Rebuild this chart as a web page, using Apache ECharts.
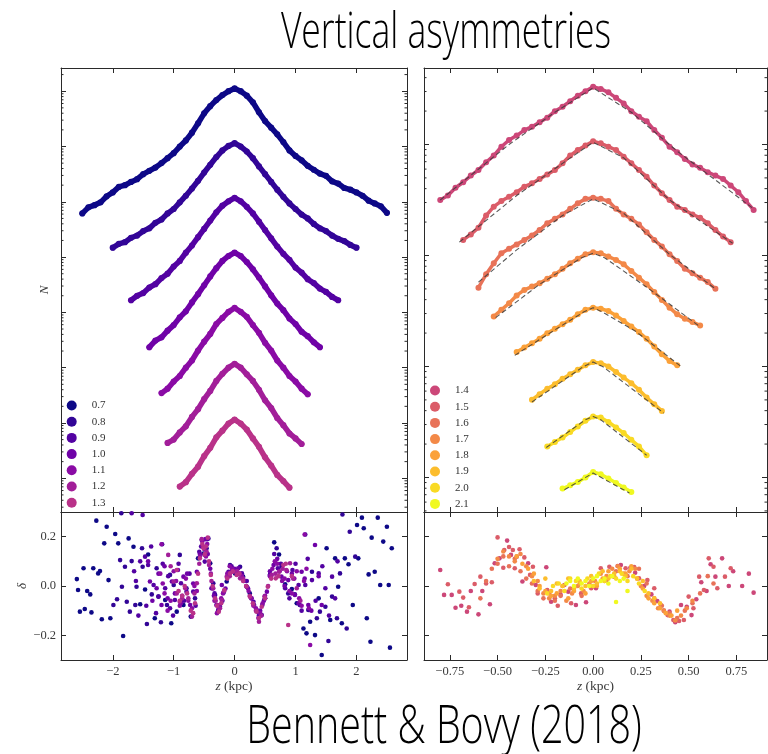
<!DOCTYPE html>
<html><head><meta charset="utf-8">
<script src="https://cdn.jsdelivr.net/npm/echarts/dist/echarts.min.js"></script>
<style>html,body{margin:0;padding:0;background:#fff}#c{width:768px;height:754px}</style>
</head><body><div id="c"></div>
<script>
const _ = null;
// ---------- bins ----------
const zLeft = [-2.5,-2.4,-2.3,-2.2,-2.1,-2.0,-1.9,-1.8,-1.7,-1.6,-1.5,-1.4,-1.3,-1.2,-1.1,-1.0,-0.9,-0.8,-0.7,-0.6,-0.5,-0.4,-0.3,-0.2,-0.1,0,0.1,0.2,0.3,0.4,0.5,0.6,0.7,0.8,0.9,1.0,1.1,1.2,1.3,1.4,1.5,1.6,1.7,1.8,1.9,2.0,2.1,2.2,2.3,2.4,2.5];
const zRight = [-0.80,-0.76,-0.72,-0.68,-0.64,-0.60,-0.56,-0.52,-0.48,-0.44,-0.40,-0.36,-0.32,-0.28,-0.24,-0.20,-0.16,-0.12,-0.08,-0.04,0.00,0.04,0.08,0.12,0.16,0.20,0.24,0.28,0.32,0.36,0.40,0.44,0.48,0.52,0.56,0.60,0.64,0.68,0.72,0.76,0.80,0.84];

const leftNames = ['0.7','0.8','0.9','1.0','1.1','1.2','1.3'];
const rightNames = ['1.4','1.5','1.6','1.7','1.8','1.9','2.0','2.1'];
const leftColors = ['#0d0887','#320597','#5302a2','#6f02a7','#8a0ba5','#a21e99','#b93289'];
const rightColors = ['#cc4778','#db5c68','#e87258','#f38948','#fba139','#fcbd2d','#f9da24','#f0f921'];

// ---------- log10 N (offset curves), left panel ----------
const logN07 = [5.79,5.90,5.94,5.99,6.10,6.17,6.27,6.30,6.36,6.41,6.50,6.56,6.62,6.70,6.79,6.88,7.00,7.11,7.25,7.42,7.60,7.73,7.84,7.93,8.00,8.05,8.00,7.92,7.80,7.62,7.46,7.34,7.22,7.08,6.93,6.83,6.75,6.65,6.58,6.51,6.47,6.37,6.33,6.25,6.22,6.17,6.11,6.02,5.97,5.92,5.80];
const logN08 = [_,_,_,_,_,5.17,5.24,5.27,5.35,5.39,5.47,5.52,5.62,5.68,5.79,5.87,5.99,6.11,6.24,6.38,6.53,6.67,6.81,6.93,7.01,7.06,7.00,6.91,6.79,6.64,6.50,6.36,6.22,6.09,5.97,5.87,5.77,5.70,5.60,5.52,5.47,5.39,5.33,5.29,5.22,5.17,_,_,_,_,_];
const logN09 = [_,_,_,_,_,_,_,_,4.22,4.30,4.35,4.45,4.51,4.62,4.70,4.83,4.93,5.08,5.21,5.36,5.51,5.66,5.81,5.93,6.01,6.07,6.01,5.91,5.79,5.64,5.49,5.34,5.19,5.06,4.95,4.81,4.72,4.60,4.53,4.43,4.37,4.28,4.22,_,_,_,_,_,_,_,_];
const logN10 = [_,_,_,_,_,_,_,_,_,_,_,3.37,3.49,3.55,3.67,3.77,3.91,4.02,4.18,4.33,4.49,4.65,4.80,4.93,5.02,5.08,5.02,4.91,4.78,4.63,4.47,4.31,4.16,4.04,3.89,3.79,3.65,3.57,3.46,3.37,_,_,_,_,_,_,_,_,_,_,_];
const logN11 = [_,_,_,_,_,_,_,_,_,_,_,_,_,2.54,2.62,2.75,2.85,3.00,3.13,3.31,3.47,3.61,3.79,3.90,4.01,4.08,4.01,3.92,3.77,3.63,3.45,3.31,3.13,3.00,2.85,2.75,2.62,2.52,_,_,_,_,_,_,_,_,_,_,_,_,_];
const logN12 = [_,_,_,_,_,_,_,_,_,_,_,_,_,_,1.64,1.70,1.83,1.94,2.11,2.25,2.43,2.58,2.76,2.89,3.00,3.07,3.00,2.88,2.76,2.60,2.41,2.27,2.09,1.96,1.81,1.72,1.62,_,_,_,_,_,_,_,_,_,_,_,_,_,_];
const logN13 = [_,_,_,_,_,_,_,_,_,_,_,_,_,_,_,_,0.85,0.93,1.08,1.21,1.40,1.55,1.74,1.86,1.99,2.06,1.99,1.88,1.72,1.57,1.38,1.23,1.06,0.95,0.83,_,_,_,_,_,_,_,_,_,_,_,_,_,_,_,_];

// ---------- log10 N (offset curves), right panel ----------
const logN14 = [3.50,3.54,3.61,3.66,3.72,3.77,3.84,3.90,3.98,4.04,4.08,4.13,4.16,4.20,4.24,4.30,4.34,4.39,4.44,4.48,4.52,4.50,4.47,4.42,4.37,4.30,4.25,4.21,4.13,4.06,3.98,3.93,3.87,3.82,3.79,3.75,3.72,3.69,3.63,3.57,3.49,3.41];
const logN15 = [_,_,_,3.14,3.19,3.25,3.36,3.44,3.49,3.53,3.57,3.62,3.65,3.69,3.73,3.77,3.83,3.90,3.95,3.99,4.03,4.01,3.98,3.95,3.89,3.83,3.77,3.71,3.63,3.56,3.50,3.44,3.41,3.37,3.34,3.29,3.23,3.17,3.12,_,_,_];
const logN16 = [_,_,_,_,_,2.71,2.83,2.93,3.02,3.06,3.10,3.14,3.18,3.23,3.29,3.33,3.37,3.42,3.47,3.51,3.52,3.51,3.49,3.42,3.37,3.33,3.28,3.21,3.14,3.08,3.01,2.95,2.88,2.84,2.80,2.76,2.70,_,_,_,_,_];
const logN17 = [_,_,_,_,_,_,_,2.45,2.51,2.57,2.64,2.69,2.72,2.75,2.79,2.83,2.88,2.93,2.97,3.01,3.03,3.02,2.99,2.96,2.92,2.86,2.80,2.74,2.67,2.60,2.53,2.47,2.43,2.40,2.37,_,_,_,_,_,_,_];
const logN18 = [_,_,_,_,_,_,_,_,_,_,2.13,2.17,2.21,2.25,2.30,2.34,2.38,2.42,2.47,2.51,2.53,2.52,2.50,2.46,2.41,2.36,2.31,2.25,2.18,2.11,2.05,2.01,_,_,_,_,_,_,_,_,_,_];
const logN19 = [_,_,_,_,_,_,_,_,_,_,_,_,1.70,1.75,1.80,1.84,1.89,1.93,1.97,2.01,2.04,2.03,2.00,1.95,1.90,1.85,1.79,1.72,1.66,1.60,_,_,_,_,_,_,_,_,_,_,_,_];
const logN20 = [_,_,_,_,_,_,_,_,_,_,_,_,_,_,1.28,1.32,1.36,1.41,1.46,1.51,1.55,1.54,1.50,1.45,1.40,1.34,1.28,1.20,_,_,_,_,_,_,_,_,_,_,_,_,_,_];
const logN21 = [_,_,_,_,_,_,_,_,_,_,_,_,_,_,_,_,0.90,0.93,0.96,1.00,1.05,1.03,0.99,0.95,0.91,0.87,_,_,_,_,_,_,_,_,_,_,_,_,_,_,_,_];

// ---------- model fits (dashed), right panel: [z, log10 N] ----------
const fit14 = [[-0.80,3.50],[-0.44,4.00],[-0.20,4.29],[0,4.51],[0.20,4.29],[0.44,3.94],[0.84,3.42]];
const fit15 = [[-0.70,3.12],[-0.40,3.54],[-0.16,3.83],[0,4.02],[0.16,3.88],[0.40,3.50],[0.73,3.11]];
const fit16 = [[-0.60,2.76],[-0.40,3.05],[-0.16,3.36],[0,3.51],[0.16,3.38],[0.40,3.01],[0.64,2.70]];
const fit17 = [[-0.51,2.44],[-0.28,2.74],[-0.06,2.98],[0,3.02],[0.06,2.98],[0.30,2.69],[0.55,2.37]];
const fit18 = [[-0.41,2.10],[-0.20,2.33],[-0.05,2.49],[0,2.53],[0.05,2.49],[0.22,2.32],[0.46,2.00]];
const fit19 = [[-0.32,1.68],[-0.05,2.00],[0,2.04],[0.05,2.00],[0.37,1.58]];
const fit20 = [[-0.245,1.27],[-0.04,1.52],[0,1.55],[0.04,1.52],[0.28,1.20]];
const fit21 = [[-0.15,0.89],[0,1.04],[0.19,0.86]];

// ---------- residuals delta: [z, delta] ----------
const res07 = [[-2.59,0.028],[-2.57,-0.016],[-2.54,-0.104],[-2.48,0.072],[-2.46,-0.093],[-2.42,-0.02],[-2.37,-0.034],[-2.35,-0.107],[-2.32,0.072],[-2.27,0.265],[-2.24,0.051],[-2.21,0.061],[-2.18,-0.135],[-2.14,0.173],[-2.10,0.24],[-2.07,0.024],[-2.04,-0.131],[-1.96,0.211],[-1.91,0.173],[-1.83,-0.203],[-1.74,0.193],[-1.66,0.159],[-1.55,-0.074],[-1.47,-0.014],[-1.42,0.128],[-1.31,-0.131],[-1.25,-0.043],[-1.14,-0.057],[-1.04,-0.151],[-0.95,-0.104],[-0.84,-0.077],[-0.72,-0.124],[-0.60,0.112],[-0.51,0.132],[-0.40,0.092],[-0.27,-0.10],[-0.13,0.018],[0.007,0.051],[0.14,0.038],[0.25,-0.03],[0.39,-0.107],[0.50,-0.05],[0.65,0.177],[0.73,0.128],[0.83,0.007],[0.94,-0.012],[1.02,-0.07],[1.13,-0.172],[1.18,-0.192],[1.24,-0.145],[1.32,-0.199],[1.38,-0.05],[1.43,-0.28],[1.51,0.153],[1.57,-0.138],[1.65,0.112],[1.70,-0.003],[1.76,-0.151],[1.81,0.112],[1.87,0.088],[1.94,-0.077],[2.01,0.247],[2.03,0.112],[2.09,0.277],[2.12,0.234],[2.17,-0.131],[2.20,0.047],[2.23,-0.226],[2.25,0.196],[2.30,0.058],[2.35,0.277],[2.39,0.004],[2.44,0.18],[2.50,0.24],[2.53,0.004],[2.55,-0.25],[2.58,0.153]];
const res08 = [[-1.99,-0.077],[-1.93,-0.054],[-1.88,0.105],[-1.86,0.295],[-1.85,-0.003],[-1.80,0.078],[-1.77,-0.064],[-1.72,-0.104],[-1.69,0.101],[-1.63,-0.077],[-1.61,-0.003],[-1.52,0.153],[-1.51,0.078],[-1.44,-0.154],[-1.36,-0.034],[-1.28,0.072],[-1.21,-0.147],[-1.19,0.169],[-1.11,-0.077],[-1.06,0.045],[-1.00,0.004],[-0.90,0.126],[-0.79,-0.009],[-0.65,-0.05],[-0.54,0.186],[-0.46,0.153],[-0.43,0.193],[-0.35,0.011],[-0.32,-0.036],[-0.24,-0.084],[-0.18,-0.026],[-0.075,0.085],[0.09,0.078],[0.20,-0.003],[0.32,-0.077],[0.445,-0.118],[0.58,0.045],[0.69,0.153],[0.77,0.078],[0.88,-0.03],[0.99,-0.034],[1.07,-0.077],[1.16,0.209],[1.21,-0.097],[1.27,0.058],[1.35,-0.131],[1.40,-0.104],[1.49,-0.084],[1.54,-0.223],[1.60,-0.043],[1.68,-0.131],[1.73,0.051],[1.77,0.29],[1.84,-0.172],[1.89,0.22],[1.98,0.119]];
const res09 = [[-1.69,0.295],[-1.65,0.06],[-1.58,-0.12],[-1.51,0.288],[-1.47,0.119],[-1.42,0.085],[-1.33,0.004],[-1.25,-0.043],[-1.14,-0.009],[-1.06,-0.09],[-0.98,-0.057],[-0.88,0.011],[-0.79,-0.023],[-0.68,-0.023],[-0.58,0.139],[-0.49,0.099],[-0.38,-0.009],[-0.27,-0.10],[-0.10,0.058],[0.12,0.051],[0.31,-0.064],[0.455,-0.077],[0.58,0.045],[0.71,0.072],[0.83,-0.009],[0.95,0.065],[1.05,0.004],[1.16,0.004],[1.27,0.024],[1.38,0.051],[1.49,-0.009],[1.60,0.038],[1.65,-0.05],
  [-1.62,0.02],[-1.55,0.10],[-1.45,-0.08],[-1.37,0.16],[-1.29,-0.11],[-1.18,0.09],[-1.09,0.04],[-1.01,-0.12],[-0.92,0.09],[-0.83,-0.06],[-0.74,0.05],[-0.64,-0.08],[-0.55,0.16],[-0.45,0.19],[-0.33,-0.03],[-0.20,-0.06],[-0.05,0.08],[0.05,0.05],[0.20,0.02],[0.40,-0.12],[0.50,-0.05],[0.65,0.13],[0.76,0.09],[0.90,-0.05],[1.00,0.09],[1.10,-0.10],[1.20,0.11],[1.33,-0.06],[1.44,0.08],[1.55,-0.12],[1.69,0.10]];
const res10 = [[-1.42,0.10],[-1.39,0.018],[-1.28,-0.009],[-1.20,-0.077],[-1.10,-0.05],[-1.03,0.018],[-0.93,0.065],[-0.84,0.038],[-0.73,-0.077],[-0.62,0.058],[-0.52,0.16],[-0.44,0.13],[-0.30,-0.077],[-0.21,0.004],[-0.05,0.06],[0.06,0.072],[0.22,-0.009],[0.36,-0.097],[0.53,-0.023],[0.64,0.085],[0.77,0.038],[0.88,0.024],[0.99,-0.036],[1.10,0.058],[1.21,-0.077],[1.32,0.166],[1.43,-0.077],
  [-1.35,-0.06],[-1.25,0.05],[-1.15,0.08],[-0.98,-0.03],[-0.88,-0.07],[-0.78,0.05],[-0.68,0.01],[-0.57,0.13],[-0.48,0.19],[-0.40,0.07],[-0.34,-0.04],[-0.25,-0.08],[-0.15,-0.01],[0.0,0.07],[0.15,0.02],[0.28,-0.05],[0.42,-0.10],[0.48,-0.06],[0.58,0.06],[0.70,0.11],[0.82,0.0],[0.94,0.05],[1.05,-0.07],[1.15,0.03],[1.26,-0.10],[1.38,0.04]];
const res11 = [[-1.22,0.05],[-1.20,0.169],[-1.15,-0.03],[-1.05,-0.06],[-0.96,0.02],[-0.86,-0.04],[-0.76,-0.06],[-0.66,0.00],[-0.57,0.12],[-0.50,0.15],[-0.45,0.17],[-0.39,0.05],[-0.33,-0.06],[-0.26,-0.09],[-0.19,-0.03],[-0.12,0.05],[-0.04,0.07],[0.04,0.06],[0.12,0.04],[0.19,0.00],[0.27,-0.05],[0.35,-0.09],[0.42,-0.11],[0.50,-0.04],[0.58,0.04],[0.66,0.10],[0.74,0.06],[0.82,0.03],[0.90,-0.02],[0.98,0.03],[1.06,-0.05],[1.14,0.02],[1.15,0.209],[1.22,-0.09],[1.24,-0.239],
  [-1.18,0.01],[-1.10,-0.10],[-1.00,0.06],[-0.90,-0.08],[-0.80,0.03],[-0.70,-0.09],[-0.62,-0.02],[-0.53,0.18],[-0.47,0.12],[-0.36,-0.01],[-0.29,-0.11],[-0.22,-0.05],[-0.08,0.08],[0.08,0.05],[0.23,-0.02],[0.31,-0.08],[0.39,-0.13],[0.46,-0.07],[0.62,0.07],[0.70,0.09],[0.78,0.02],[0.86,0.06],[0.94,-0.03],[1.02,0.06],[1.10,-0.08],[1.18,0.07]];
const res12 = [[-1.09,0.126],[-1.00,0.018],[-0.90,-0.064],[-0.81,-0.009],[-0.76,-0.05],[-0.70,-0.124],[-0.62,0.011],[-0.54,0.19],[-0.49,0.126],[-0.42,0.085],[-0.35,-0.009],[-0.28,-0.077],[-0.21,-0.057],[-0.13,0.038],[-0.02,0.058],[0.09,0.031],[0.20,-0.003],[0.31,-0.077],[0.40,-0.145],[0.49,-0.043],[0.61,0.045],[0.73,0.058],[0.85,0.065],[0.91,0.092],[1.02,-0.009],[1.08,-0.06],
  [-1.05,0.08],[-0.95,-0.03],[-0.86,-0.05],[-0.66,-0.03],[-0.58,0.09],[-0.52,0.16],[-0.46,0.14],[-0.38,0.02],[-0.31,-0.06],[-0.24,-0.09],[-0.17,-0.02],[-0.08,0.04],[0.04,0.06],[0.14,0.03],[0.25,-0.04],[0.35,-0.10],[0.44,-0.12],[0.55,0.0],[0.67,0.05],[0.79,0.07],[0.96,0.03]];
const res13 = [[-0.95,0.065],[-0.92,-0.02],[-0.86,-0.04],[-0.78,-0.03],[-0.72,-0.10],[-0.65,-0.07],[-0.57,0.112],[-0.51,0.153],[-0.47,0.16],[-0.44,0.196],[-0.39,0.045],[-0.32,-0.05],[-0.26,-0.104],[-0.17,-0.016],[-0.075,0.051],[0.034,0.045],[0.14,0.02],[0.25,-0.043],[0.36,-0.104],[0.445,-0.084],[0.545,-0.003],[0.675,0.031],[0.80,0.085],[0.88,-0.158],[0.94,0.04],
  [-0.90,-0.06],[-0.82,0.0],[-0.68,-0.11],[-0.60,0.05],[-0.53,0.17],[-0.49,0.13],[-0.42,0.10],[-0.36,0.0],[-0.29,-0.08],[-0.22,-0.07],[-0.12,0.03],[-0.03,0.06],[0.08,0.05],[0.19,0.0],[0.30,-0.07],[0.40,-0.13],[0.50,-0.05],[0.60,0.03],[0.72,0.04],[0.84,0.09]];
const res14 = [[-0.80,0.065],[-0.78,-0.036],[-0.74,-0.036],[-0.72,-0.088],[-0.69,-0.08],[-0.66,-0.104],[-0.64,-0.02],[-0.60,-0.115],[-0.58,-0.02],[-0.54,-0.074],[-0.515,0.092],[-0.49,0.112],[-0.45,0.184],[-0.43,0.126],[-0.40,0.119],[-0.37,0.018],[-0.34,0.092],[-0.30,0.004],[-0.245,0.076],[-0.22,-0.064],[-0.17,-0.036],[-0.13,-0.023],[-0.09,-0.077],[-0.037,-0.066],[0.015,-0.009],[0.07,0.024],[0.11,0.038],[0.145,0.085],[0.195,0.074],[0.22,0.054],[0.267,0.0],[0.305,-0.034],[0.336,-0.061],[0.37,-0.10],[0.40,-0.104],[0.43,-0.147],[0.46,-0.077],[0.49,-0.084],[0.515,-0.118],[0.54,-0.054],[0.566,0.015],[0.594,-0.02],[0.615,0.088],[0.64,0.038],[0.675,0.112],[0.71,0.0],[0.733,0.06],[0.78,0.0],[0.815,0.05],[0.84,-0.027]];
const res15 = [[-0.76,0.007],[-0.70,-0.023],[-0.68,-0.047],[-0.65,-0.086],[-0.62,0.008],[-0.59,0.038],[-0.56,0.01],[-0.53,0.015],[-0.50,0.197],[-0.47,0.074],[-0.465,0.146],[-0.44,0.158],[-0.42,0.146],[-0.41,0.072],[-0.385,0.149],[-0.36,0.116],[-0.33,0.045],[-0.315,0.078],[-0.29,-0.03],[-0.24,-0.016],[-0.20,-0.05],[-0.185,-0.08],[-0.15,0.004],[-0.115,-0.07],[-0.063,-0.03],[-0.01,-0.009],[0.04,0.072],[0.085,0.078],[0.128,0.081],[0.17,0.072],[0.215,0.077],[0.24,0.031],[0.284,0.024],[0.32,-0.009],[0.354,-0.077],[0.39,-0.118],[0.42,-0.138],[0.45,-0.142],[0.475,-0.138],[0.50,-0.043],[0.525,-0.09],[0.555,0.038],[0.58,-0.016],[0.605,0.112],[0.63,0.078],[0.65,-0.009],[0.69,0.038],[0.72,0.072]];
const res16 = [[-0.59,-0.05],[-0.56,0.02],[-0.53,0.07],[-0.50,0.09],[-0.47,0.12],[-0.44,0.08],[-0.41,0.11],[-0.38,0.06],[-0.35,0.03],[-0.32,0.01],[-0.29,-0.02],[-0.26,-0.05],[-0.23,-0.03],[-0.20,-0.06],[-0.17,-0.04],[-0.12,-0.01],[-0.06,-0.04],[0.0,0.0],[0.06,0.02],[0.12,0.06],[0.18,0.04],[0.24,0.07],[0.28,0.01],[0.32,-0.05],[0.36,-0.08],[0.40,-0.11],[0.44,-0.13],[0.48,-0.10],[0.52,-0.07],[0.56,-0.03],[0.60,0.04],[0.63,0.01]];
const res17 = [[-0.50,0.11],[-0.47,0.14],[-0.44,0.12],[-0.41,0.10],[-0.38,0.13],[-0.35,0.08],[-0.32,0.04],[-0.29,0.02],[-0.26,-0.03],[-0.23,-0.05],[-0.20,-0.04],[-0.17,-0.02],[-0.14,-0.06],[-0.11,-0.03],[-0.08,0.0],[-0.05,-0.02],[-0.02,0.01],[0.01,0.02],[0.04,0.05],[0.07,0.04],[0.10,0.07],[0.13,0.08],[0.16,0.05],[0.19,0.06],[0.22,0.07],[0.25,0.0],[0.28,-0.04],[0.31,-0.06],[0.34,-0.09],[0.37,-0.10],[0.40,-0.12],[0.43,-0.14],[0.46,-0.12],[0.49,-0.09],[0.52,-0.06]];
const res18 = [[-0.40,0.12],[-0.37,0.09],[-0.34,0.07],[-0.31,0.05],[-0.28,0.0],[-0.25,-0.02],[-0.22,-0.04],[-0.19,-0.03],[-0.16,0.0],[-0.13,-0.05],[-0.10,-0.02],[-0.07,0.01],[-0.04,-0.03],[-0.01,0.02],[0.02,0.0],[0.05,0.03],[0.08,0.06],[0.11,0.04],[0.14,0.07],[0.17,0.05],[0.20,0.08],[0.23,0.03],[0.26,-0.01],[0.29,-0.05],[0.32,-0.07],[0.35,-0.09],[0.38,-0.11],[0.41,-0.12],[0.44,-0.10]];
const res19 = [[-0.31,0.02],[-0.28,-0.01],[-0.25,0.03],[-0.22,-0.02],[-0.19,0.01],[-0.16,0.0],[-0.13,0.03],[-0.10,-0.01],[-0.07,0.02],[-0.04,0.0],[-0.01,0.04],[0.02,0.01],[0.05,0.06],[0.08,0.03],[0.11,0.05],[0.14,0.06],[0.17,0.04],[0.20,0.07],[0.23,0.03],[0.26,0.02],[0.29,-0.03],[0.32,-0.05],[0.35,-0.07]];
const res20 = [[-0.24,-0.03],[-0.21,0.0],[-0.18,0.01],[-0.15,-0.02],[-0.12,0.03],[-0.09,0.02],[-0.06,-0.01],[-0.03,0.03],[0.0,0.0],[0.03,0.05],[0.06,0.02],[0.09,0.04],[0.12,0.03],[0.15,0.05],[0.18,0.02],[0.21,0.04],[0.24,0.01],[0.27,-0.02]];
const res21 = [[-0.14,0.01],[-0.12,0.02],[-0.10,0.0],[-0.08,0.03],[-0.06,0.01],[-0.04,0.02],[-0.02,0.0],[0.0,0.03],[0.02,0.04],[0.04,0.02],[0.06,0.03],[0.08,0.01],[0.10,0.04],[0.12,-0.065],[0.14,0.02],[0.16,0.03],[0.18,-0.02]];

const leftCurves = [logN07,logN08,logN09,logN10,logN11,logN12,logN13];
const rightCurves = [logN14,logN15,logN16,logN17,logN18,logN19,logN20,logN21];
const rightFits = [fit14,fit15,fit16,fit17,fit18,fit19,fit20,fit21];
const leftRes = [res07,res08,res09,res10,res11,res12,res13];
const rightRes = [res14,res15,res16,res17,res18,res19,res20,res21];

// ---------- axis ranges ----------
const xL = [-2.85, 2.83], xR = [-0.885, 0.91];
const yTopL = [0.39, 8.42], yTopR = [0.689, 4.689], yRes = [-0.3, 0.3];
const minorMultiples = [2,3,4,5,6,7,8,9];

const AX = '#2a2a2a';
const SERIF = '"Liberation Serif","DejaVu Serif",serif';
const minus = s => String(s).replace('-', '\u2212');

function xAx(grid, r, step, pos, labels, fmt, name) {
  return {
    type:'value', gridIndex:grid, min:r[0], max:r[1], minInterval:step, maxInterval:step, position:pos,
    axisLine:{onZero:false, lineStyle:{color:AX, width:1}},
    axisTick:{inside:true, length:5, lineStyle:{color:AX}},
    splitLine:{show:false},
    axisLabel:{show:labels, showMinLabel:false, showMaxLabel:false, margin:5, fontFamily:SERIF, fontSize:12.5, color:'#3a3a3a', formatter:fmt},
    name: name || '', nameLocation:'middle', nameGap:19,
    nameTextStyle:{fontFamily:SERIF, fontSize:13.5, color:'#3a3a3a', rich:{i:{fontStyle:'italic', fontFamily:SERIF, fontSize:13.5, color:'#3a3a3a'}}}
  };
}
function yAx(grid, r, step, pos, labels, name, gap) {
  return {
    type:'value', gridIndex:grid, min:r[0], max:r[1], minInterval:step, maxInterval:step, position:pos,
    axisLine:{onZero:false, lineStyle:{color:AX, width:1}},
    axisTick:{inside:true, length:5, lineStyle:{color:AX}},
    splitLine:{show:false},
    axisLabel:{show:labels, showMinLabel:false, showMaxLabel:false, margin:5, fontFamily:SERIF, fontSize:12.5, color:'#3a3a3a',
      formatter: v => minus(v.toFixed(1))},
    name: name || '', nameLocation:'middle', nameGap:gap || 10, nameRotate:90,
    nameTextStyle:{fontFamily:SERIF, fontSize:13, fontStyle:'italic', color:'#3a3a3a'}
  };
}

const grids = [
  {left:61, top:68, width:346, height:444},
  {left:424, top:68, width:343, height:444},
  {left:61, top:512, width:346, height:148},
  {left:424, top:512, width:343, height:148}
].map(g => Object.assign({outerBoundsMode:'none', containLabel:false}, g));

const xAxes = [
  xAx(0, xL, 1, 'bottom', false), xAx(0, xL, 1, 'top', false),
  xAx(1, xR, 0.25, 'bottom', false), xAx(1, xR, 0.25, 'top', false),
  xAx(2, xL, 1, 'bottom', true, v => minus(v), '{i|z} (kpc)'), xAx(2, xL, 1, 'top', false),
  xAx(3, xR, 0.25, 'bottom', true, v => minus(v.toFixed(2)), '{i|z} (kpc)'), xAx(3, xR, 0.25, 'top', false)
];
const yAxes = [
  yAx(0, yTopL, 1, 'left', false, 'N', 10), yAx(0, yTopL, 1, 'right', false),
  yAx(1, yTopR, 1, 'left', false), yAx(1, yTopR, 1, 'right', false),
  yAx(2, yRes, 0.2, 'left', true, '\u03b4', 32), yAx(2, yRes, 0.2, 'right', false),
  yAx(3, yRes, 0.2, 'left', false), yAx(3, yRes, 0.2, 'right', false)
];

function minorTicks(axIdx, xr, yr) {
  const vals = [];
  for (let d = Math.floor(yr[0]); d <= Math.ceil(yr[1]); d++) {
    minorMultiples.forEach(m => { const v = d + Math.log10(m); if (v > yr[0] && v < yr[1]) vals.push([xr[0], v]); });
  }
  return {
    type:'custom', xAxisIndex:axIdx, yAxisIndex:axIdx, silent:true, z:6, data:vals, animation:false,
    renderItem: (p, api) => {
      const v = api.value(1);
      const a = api.coord([xr[0], v]), b = api.coord([xr[1], v]);
      return {type:'group', children:[
        {type:'line', shape:{x1:a[0], y1:a[1], x2:a[0]+2.5, y2:a[1]}, style:{stroke:AX, lineWidth:1}},
        {type:'line', shape:{x1:b[0]-2.5, y1:b[1], x2:b[0], y2:b[1]}, style:{stroke:AX, lineWidth:1}}
      ]};
    }
  };
}

function curve(name, color, zs, vals, ax, lw, ss) {
  const data = [];
  zs.forEach((z, i) => { if (vals[i] !== null) data.push([z, vals[i]]); });
  return {type:'line', name, xAxisIndex:ax, yAxisIndex:ax, data, symbol:'circle', symbolSize:ss, showSymbol:true,
    lineStyle:{color, width:lw, cap:'round', join:'round'}, itemStyle:{color}, emphasis:{disabled:true}, animation:false, z:3};
}
function fitLine(data, ax) {
  return {type:'line', name:'fit', xAxisIndex:ax, yAxisIndex:ax, data, symbol:'none', smooth:false,
    lineStyle:{color:'#3c3c3c', width:1.1, type:[5,3], opacity:0.85}, emphasis:{disabled:true}, animation:false, z:4};
}
function resid(name, color, pts, ax) {
  return {type:'scatter', name, xAxisIndex:ax, yAxisIndex:ax, data:pts, symbolSize:4.6,
    itemStyle:{color, opacity:1}, emphasis:{disabled:true}, animation:false, z:3};
}

const series = [];
leftNames.forEach((n, i) => series.push(curve(n, leftColors[i], zLeft, leftCurves[i], 0, 5.5, 6.2)));
rightNames.forEach((n, i) => series.push(curve(n, rightColors[i], zRight, rightCurves[i], 2, 3.5, 6)));
rightFits.forEach(f => series.push(fitLine(f, 2)));
leftNames.forEach((n, i) => series.push(resid(n, leftColors[i], leftRes[i], 4)));
rightNames.forEach((n, i) => series.push(resid(n, rightColors[i], rightRes[i], 6)));
series.push(minorTicks(0, xL, yTopL));
series.push(minorTicks(2, xR, yTopR));

const legendCommon = {orient:'vertical', icon:'circle', itemWidth:30, itemHeight:10, itemGap:5.2, padding:0,
  selectedMode:false, textStyle:{fontFamily:SERIF, fontSize:11, color:'#333', lineHeight:10}};

const chart = echarts.init(document.getElementById('c'), null, {renderer:'canvas'});
chart.setOption({
  backgroundColor:'#fff',
  animation:false,
  grid: grids,
  xAxis: xAxes,
  yAxis: yAxes,
  legend: [
    Object.assign({data:leftNames, left:66.7, top:400}, legendCommon),
    Object.assign({data:rightNames, left:430, top:385}, legendCommon)
  ],
  graphic: [
    {type:'text', x:446, y:34, scaleX:0.71, style:{text:'Vertical asymmetries', font:'300 50px "Open Sans"', fill:'#000', align:'center', verticalAlign:'middle'}},
    {type:'text', x:444, y:728, scaleX:0.73, style:{text:'Bennett & Bovy (2018)', font:'300 54px "Open Sans"', fill:'#000', align:'center', verticalAlign:'middle'}}
  ],
  series
});
</script></body></html>
